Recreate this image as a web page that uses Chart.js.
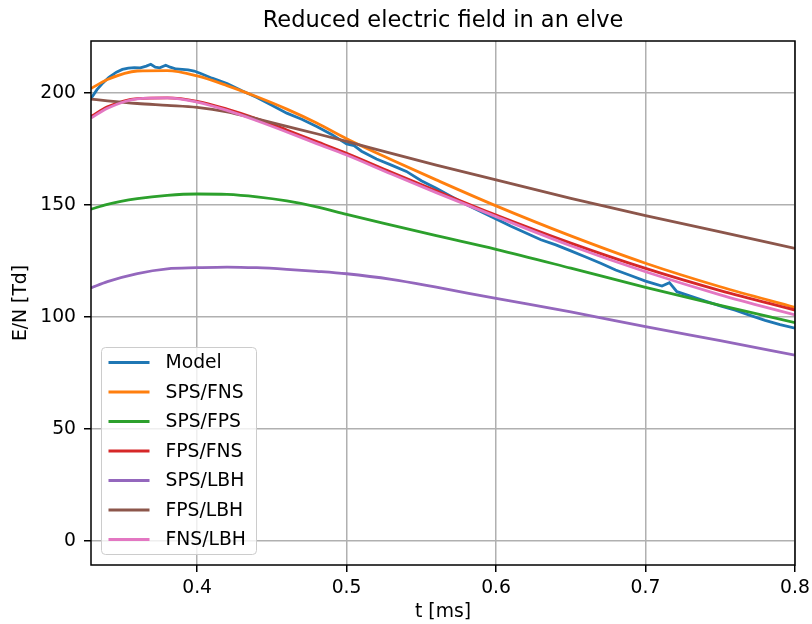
<!DOCTYPE html>
<html>
<head>
<meta charset="utf-8">
<script src="https://cdn.jsdelivr.net/npm/chart.js@4/dist/chart.umd.min.js"></script>
<style>
  html, body { margin: 0; padding: 0; background: #fff; }
</style>
</head>
<body>
<canvas id="elveChart" width="812" height="624"></canvas>
<script>
// time axis of the fitted curves [ms]
const tFit = [0.329, 0.34, 0.36, 0.38, 0.40, 0.42, 0.44, 0.46, 0.48, 0.50, 0.53, 0.56, 0.60, 0.65, 0.70, 0.75, 0.80];

const spsFns = [202, 206, 209.8, 210, 207.6, 203.3, 198.3, 192.8, 186.6, 179.6, 170.2, 161.2, 149.6, 136.2, 124, 113.5, 104.3];
const spsFps = [148.1, 150.3, 152.8, 154.3, 154.9, 154.7, 153.6, 151.8, 149.2, 145.8, 141, 136.3, 130.2, 121.8, 113.2, 105.2, 97.5];
const fpsFns = [189.5, 193.8, 197.5, 197.8, 196.3, 192.8, 188.5, 183.5, 178.3, 173.1, 164.6, 156.3, 145.5, 133, 121.7, 111.8, 103.1];
const spsLbh = [113, 115.8, 119.4, 121.5, 122, 122.3, 122, 121.3, 120.4, 119.3, 116.8, 113.3, 108.3, 102.3, 95.7, 89.4, 83];
const fpsLbh = [197.3, 196.5, 195.3, 194.5, 193.6, 191.6, 188.4, 185.1, 181.8, 178.4, 173, 167.8, 161.2, 153, 145.3, 138, 130.6];
const fnsLbh = [188.8, 193.2, 197.4, 197.8, 195.9, 192.2, 187.6, 182.6, 177.4, 172.3, 163.8, 155.5, 144.8, 131.8, 120.2, 109.9, 100.9];

// model output, sampled more densely (it is noisy)
const tModel = [0.329, 0.333, 0.337, 0.341, 0.346, 0.350, 0.354, 0.358, 0.362, 0.366, 0.369, 0.372, 0.375, 0.379, 0.382, 0.386,
  0.390, 0.394, 0.398, 0.402, 0.41, 0.42, 0.43, 0.44, 0.45, 0.46, 0.47, 0.48, 0.49, 0.50, 0.505, 0.51, 0.52, 0.53, 0.54, 0.55,
  0.56, 0.57, 0.58, 0.59, 0.60, 0.61, 0.62, 0.63, 0.64, 0.65, 0.66, 0.67, 0.68, 0.69, 0.70, 0.705, 0.711, 0.716, 0.721, 0.73,
  0.74, 0.75, 0.76, 0.77, 0.78, 0.79, 0.80];
const model = [197.5, 201.5, 204.5, 207, 209.3, 210.5, 211.1, 211.3, 211.2, 212, 212.8, 211.5, 211.2, 212.4, 211.5, 210.7,
  210.5, 210.3, 209.8, 208.8, 206.6, 204.2, 201, 198, 194.5, 191, 188.3, 185, 181.5, 177.3, 176.5, 174, 170.5, 167.8, 165, 160.8,
  157.5, 153.8, 150.2, 147, 143.8, 140.5, 137.5, 134.5, 132.2, 129.5, 126.8, 124, 121, 118.5, 116, 115, 113.8, 115.3, 111.3, 109.3,
  107.1, 105, 103, 100.7, 98.5, 96.6, 95];

const labels = ['Model', 'SPS/FNS', 'SPS/FPS', 'FPS/FNS', 'SPS/LBH', 'FPS/LBH', 'FNS/LBH'];
const colors = ['#1f77b4', '#ff7f0e', '#2ca02c', '#d62728', '#9467bd', '#8c564b', '#e377c2'];
const xTicks = [0.4, 0.5, 0.6, 0.7, 0.8];
const yTicks = [0, 50, 100, 150, 200];
const chartTitle = 'Reduced electric field in an elve';

const FONT = "'DejaVu Sans', sans-serif";

function pts(ts, vs) {
  return ts.map((t, i) => ({ x: t, y: vs[i] }));
}

const series = [pts(tModel, model), pts(tFit, spsFns), pts(tFit, spsFps), pts(tFit, fpsFns),
  pts(tFit, spsLbh), pts(tFit, fpsLbh), pts(tFit, fnsLbh)];

const datasets = series.map((d, i) => ({
  label: labels[i],
  data: d,
  borderColor: colors[i],
  backgroundColor: colors[i],
  borderWidth: 2.8,
  pointRadius: 0,
  fill: false,
  cubicInterpolationMode: i === 0 ? 'default' : 'monotone',
  tension: 0,
  order: series.length - i   // later series on top, like matplotlib
}));

// title over the plot, frame around it, legend box in the lower left corner
const frameAndLegend = {
  id: 'frameAndLegend',
  afterDraw(chart) {
    const ctx = chart.ctx;
    const a = chart.chartArea;
    ctx.save();

    ctx.font = '22.5px ' + FONT;
    ctx.fillStyle = '#000';
    ctx.textAlign = 'center';
    ctx.textBaseline = 'middle';
    ctx.fillText(chartTitle, (a.left + a.right) / 2, 21);

    ctx.strokeStyle = '#000';
    ctx.lineWidth = 1.5;
    ctx.strokeRect(a.left, a.top, a.right - a.left, a.bottom - a.top);

    const rowH = 29.5;
    const w = 155, h = 207;
    const x0 = a.left + 10.5, y0 = a.bottom - 10.5 - h;
    ctx.beginPath();
    ctx.roundRect(x0, y0, w, h, 4);
    ctx.fillStyle = 'rgba(255,255,255,0.8)';
    ctx.fill();
    ctx.strokeStyle = '#cccccc';
    ctx.lineWidth = 1;
    ctx.stroke();

    ctx.font = '18.75px ' + FONT;
    ctx.textAlign = 'left';
    ctx.fillStyle = '#000';
    labels.forEach((lab, i) => {
      const y = y0 + 15 + i * rowH;
      ctx.beginPath();
      ctx.moveTo(x0 + 7, y);
      ctx.lineTo(x0 + 48, y);
      ctx.strokeStyle = colors[i];
      ctx.lineWidth = 2.8;
      ctx.stroke();
      ctx.fillText(lab, x0 + 64, y + 1);
    });
    ctx.restore();
  }
};

new Chart(document.getElementById('elveChart'), {
  type: 'line',
  data: { datasets: datasets },
  options: {
    responsive: false,
    animation: false,
    layout: { padding: { left: 0, right: 17, top: 41, bottom: 0 } },
    plugins: {
      legend: { display: false },
      tooltip: { enabled: false },
      title: { display: false }
    },
    scales: {
      x: {
        type: 'linear',
        min: 0.329,
        max: 0.8,
        afterBuildTicks: s => { s.ticks = xTicks.map(v => ({ value: v })); },
        afterFit: s => { s.height = 59; s.paddingLeft = 0; s.paddingRight = 0; },
        grid: { color: '#b0b0b0', lineWidth: 1.5, tickColor: '#000', tickLength: 7, tickWidth: 1.5 },
        border: { display: false },
        ticks: {
          color: '#000', font: { family: FONT, size: 18.75 }, padding: 5, maxRotation: 0,
          callback: v => v.toFixed(1)
        },
        title: {
          display: true, text: 't [ms]', color: '#000',
          font: { family: FONT, size: 18.75 }, padding: { top: 1, bottom: 1 }
        }
      },
      y: {
        type: 'linear',
        min: -10.7,
        max: 223.2,
        afterBuildTicks: s => { s.ticks = yTicks.map(v => ({ value: v })); },
        afterFit: s => { s.width = 91; },
        grid: { color: '#b0b0b0', lineWidth: 1.5, tickColor: '#000', tickLength: 7, tickWidth: 1.5 },
        border: { display: false },
        ticks: {
          color: '#000', font: { family: FONT, size: 18.75 }, padding: 8,
          callback: v => String(v)
        },
        title: {
          display: true, text: 'E/N [Td]', color: '#000',
          font: { family: FONT, size: 18.75 }, padding: { top: 9.5, bottom: 9 }
        }
      }
    }
  },
  plugins: [frameAndLegend]
});
</script>
</body>
</html>
